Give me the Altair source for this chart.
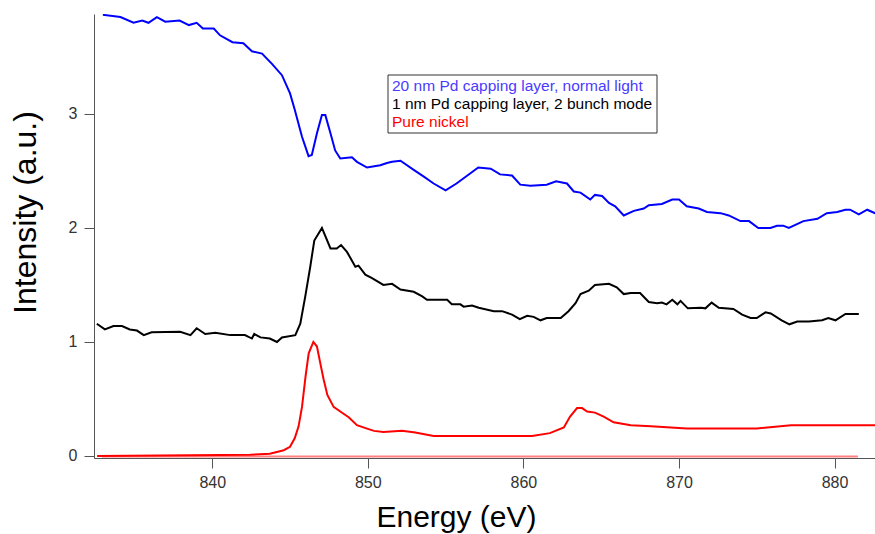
import altair as alt
import pandas as pd

# ---- data ----
blue_energy = [832.97, 834.1, 834.94, 835.5, 835.9, 836.44, 836.98, 837.9, 838.5, 839.0,
               839.4, 840.1, 840.5, 841.3, 842.0, 842.55, 843.2, 843.84, 844.48, 845.0,
               845.3, 845.77, 846.19, 846.4, 846.73, 847.05, 847.27, 847.6, 847.9, 848.23,
               848.98, 849.3, 849.95, 850.8, 851.23, 851.56, 852.1, 852.95, 853.6, 854.23,
               855.0, 855.7, 856.4, 857.1, 857.9, 858.5, 859.27, 859.8, 860.45, 861.5,
               862.1, 862.8, 863.24, 863.67, 864.3, 864.6, 865.06, 865.5, 865.9, 866.45,
               867.1, 867.74, 868.06, 868.9, 869.57, 870.0, 870.5, 871.27, 871.8, 872.67,
               873.2, 873.95, 874.5, 875.1, 875.88, 876.3, 876.7, 877.06, 878.0, 878.9,
               879.5, 880.17, 880.7, 881.0, 881.56, 882.1, 882.6, 883.0]
blue_intensity = [3.87, 3.85, 3.80, 3.82, 3.80, 3.85, 3.81, 3.82, 3.78, 3.80,
                  3.75, 3.75, 3.69, 3.63, 3.62, 3.55, 3.53, 3.44, 3.34, 3.18,
                  3.04, 2.80, 2.63, 2.64, 2.83, 2.99, 2.99, 2.83, 2.68, 2.61,
                  2.62, 2.58, 2.53, 2.55, 2.57, 2.58, 2.59, 2.51, 2.45, 2.39,
                  2.33, 2.39, 2.46, 2.53, 2.52, 2.47, 2.46, 2.38, 2.37, 2.38,
                  2.41, 2.39, 2.32, 2.31, 2.25, 2.29, 2.28, 2.22, 2.19, 2.11,
                  2.15, 2.17, 2.20, 2.21, 2.25, 2.25, 2.19, 2.17, 2.14, 2.13,
                  2.11, 2.06, 2.06, 2.00, 2.00, 2.02, 2.02, 2.00, 2.06, 2.08,
                  2.13, 2.14, 2.16, 2.16, 2.12, 2.16, 2.13, 2.13]

black_energy = [832.58, 833.1, 833.65, 834.2, 834.7, 835.16, 835.6, 836.1, 837.94, 838.6,
                839.0, 839.55, 840.2, 841.16, 842.1, 842.55, 842.7, 843.1, 843.7, 844.16,
                844.48, 845.34, 845.66, 845.98, 846.3, 846.56, 847.05, 847.6, 848.0, 848.28,
                848.66, 849.2, 849.4, 849.84, 850.27, 851.0, 851.56, 852.1, 852.95, 853.5,
                853.8, 855.1, 855.4, 855.95, 856.16, 856.7, 857.13, 858.1, 858.63, 859.27,
                859.77, 860.24, 860.66, 861.1, 861.5, 862.4, 862.9, 863.35, 863.67, 864.2,
                864.6, 865.5, 866.0, 866.45, 866.9, 867.5, 868.06, 868.6, 868.9, 869.2,
                869.57, 869.9, 870.1, 870.57, 871.4, 871.7, 872.1, 872.56, 873.5, 874.06,
                874.6, 875.0, 875.56, 875.9, 876.6, 877.1, 877.6, 878.35, 879.2, 879.6,
                880.06, 880.7, 881.56]
black_intensity = [1.16, 1.11, 1.14, 1.14, 1.11, 1.10, 1.06, 1.085, 1.09, 1.06,
                   1.12, 1.07, 1.08, 1.06, 1.06, 1.03, 1.07, 1.04, 1.03, 1.00,
                   1.04, 1.06, 1.16, 1.40, 1.66, 1.89, 2.00, 1.82, 1.82, 1.85,
                   1.79, 1.66, 1.67, 1.59, 1.56, 1.50, 1.51, 1.46, 1.44, 1.40,
                   1.37, 1.37, 1.33, 1.33, 1.31, 1.32, 1.30, 1.27, 1.27, 1.24,
                   1.20, 1.23, 1.22, 1.19, 1.21, 1.21, 1.27, 1.34, 1.42, 1.45,
                   1.50, 1.51, 1.48, 1.42, 1.43, 1.43, 1.35, 1.34, 1.345, 1.33,
                   1.37, 1.33, 1.36, 1.295, 1.30, 1.295, 1.345, 1.30, 1.29, 1.24,
                   1.21, 1.21, 1.26, 1.25, 1.19, 1.155, 1.18, 1.18, 1.19, 1.21,
                   1.19, 1.245, 1.245]

red_energy = [832.6, 842.44, 843.7, 844.6, 845.0, 845.3, 845.55, 845.77, 846.0, 846.2,
              846.5, 846.73, 846.95, 847.16, 847.4, 847.8, 848.44, 848.77, 849.3, 849.95,
              850.4, 851.0, 852.2, 853.05, 854.23, 860.56, 861.7, 862.6, 863.0, 863.45,
              863.77, 864.1, 864.6, 865.16, 865.8, 866.9, 868.2, 870.5, 875.0, 877.2, 883.0]
red_intensity = [0.0, 0.01, 0.02, 0.05, 0.08, 0.155, 0.26, 0.43, 0.70, 0.90,
                 1.00, 0.96, 0.81, 0.67, 0.535, 0.43, 0.37, 0.34, 0.27, 0.24,
                 0.22, 0.21, 0.22, 0.205, 0.175, 0.175, 0.20, 0.25, 0.345, 0.42,
                 0.42, 0.39, 0.38, 0.345, 0.295, 0.27, 0.26, 0.24, 0.24, 0.27, 0.27]

base_energy = [832.9, 881.5]
base_intensity = [-0.005, -0.005]

x_ticks = [840, 850, 860, 870, 880]
y_ticks = [0, 1, 2, 3]

legend_labels = ["20 nm Pd capping layer, normal light",
                 "1 nm Pd capping layer, 2 bunch mode",
                 "Pure nickel"]
legend_colors = ["#4a3aff", "#000000", "#ff0000"]

FONT = "Liberation Sans"

x_scale = alt.Scale(domain=[832.4, 882.6], nice=False, zero=False)
y_scale = alt.Scale(domain=[-0.018, 3.877], nice=False, zero=False)

x_axis = alt.Axis(values=x_ticks, format="d", tickSize=10, labelPadding=6,
                  labelFontSize=16, labelFont=FONT, labelColor="#333333",
                  domainColor="#555555", tickColor="#555555", grid=False,
                  titleFontSize=30, titleFont=FONT, titleFontWeight="normal",
                  titleColor="#000000", titleX=362, titleY=68,
                  titleBaseline="alphabetic", titleAlign="center")
y_axis = alt.Axis(values=y_ticks, format="d", tickSize=10, labelPadding=7,
                  labelFontSize=16, labelFont=FONT, labelColor="#333333",
                  domainColor="#555555", tickColor="#555555", grid=False,
                  titleFontSize=32, titleFont=FONT, titleFontWeight="normal",
                  titleColor="#000000", titleX=-69, titleY=198,
                  titleBaseline="middle", titleAlign="center")


def line(energy, intensity, color, width=2.0):
    df = pd.DataFrame({"energy": energy, "intensity": intensity})
    return alt.Chart(df).mark_line(color=color, strokeWidth=width, clip=True).encode(
        x=alt.X("energy:Q", scale=x_scale, axis=x_axis, title="Energy (eV)"),
        y=alt.Y("intensity:Q", scale=y_scale, axis=y_axis, title="Intensity (a.u.)"),
    )


one = pd.DataFrame({"a": [0]})
legend_box = alt.Chart(one).mark_rect(fill="white", stroke="#333333", strokeWidth=1).encode(
    x=alt.value(294), x2=alt.value(563), y=alt.value(61), y2=alt.value(119))

legend_texts = []
for i, (lab, col) in enumerate(zip(legend_labels, legend_colors)):
    legend_texts.append(
        alt.Chart(one).mark_text(text=lab, color=col, font=FONT, fontSize=15.5,
                                 align="left", baseline="middle").encode(
            x=alt.value(298), y=alt.value(72 + 18 * i)))

chart = alt.layer(
    line(base_energy, base_intensity, "#ff8080", 2.0),
    line(red_energy, red_intensity, "#ff0000", 2.0),
    line(black_energy, black_intensity, "#000000", 2.0),
    line(blue_energy, blue_intensity, "#0000ff", 2.0),
    legend_box,
    *legend_texts,
).properties(
    width=781, height=444,
    autosize=alt.AutoSizeParams(type="none"),
    padding={"left": 94, "top": 14, "right": 0, "bottom": 76},
    background="white",
).configure_view(stroke=None)

chart.save("out.html", embed_options={"renderer": "svg", "actions": False})
